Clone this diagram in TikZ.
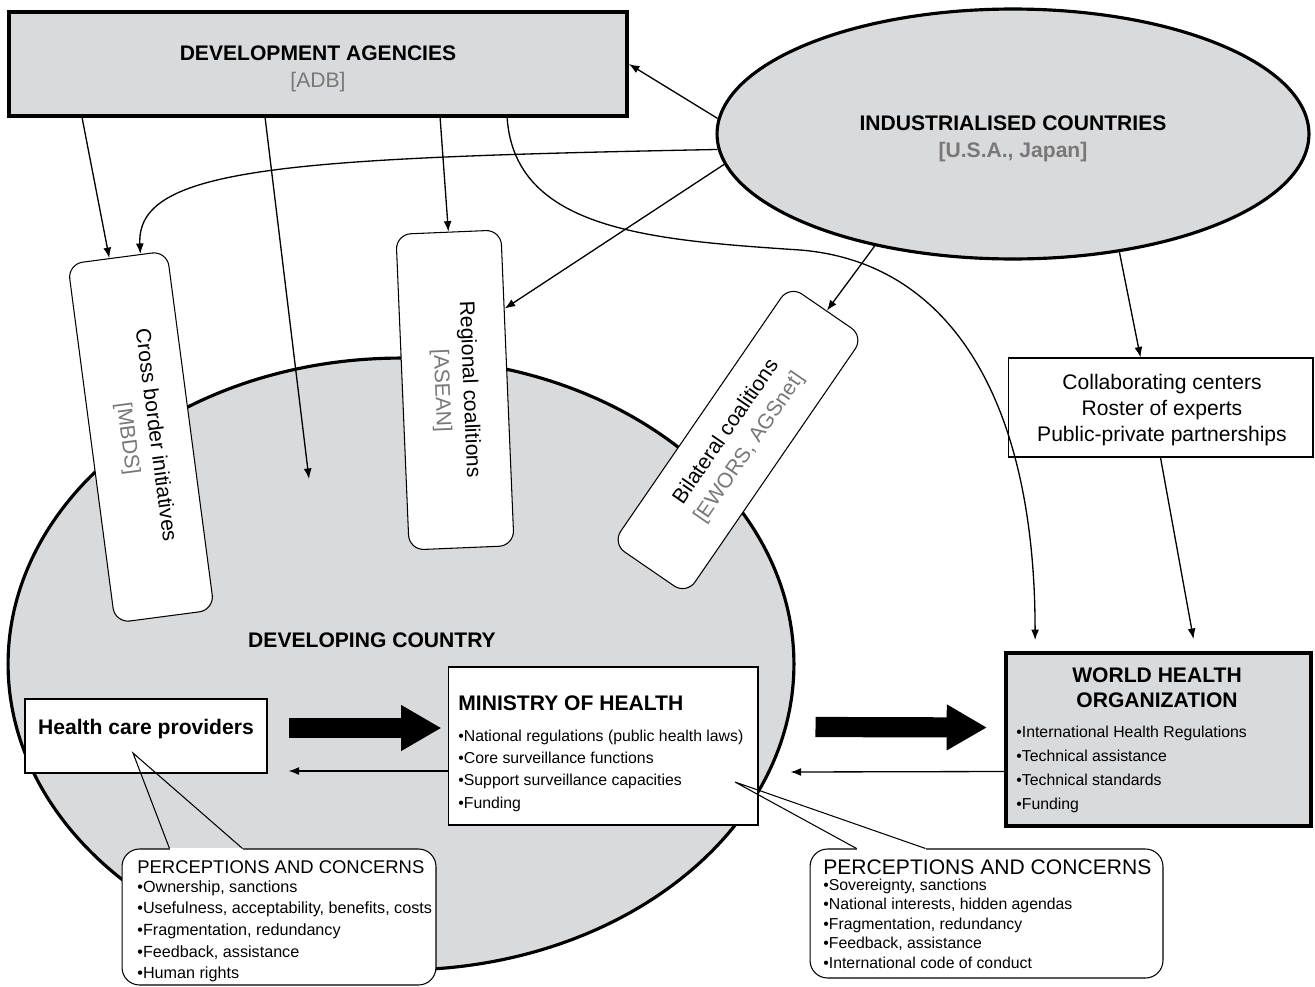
\documentclass[tikz,border=0pt]{standalone}
\usepackage{fontspec}
\setmainfont{Liberation Sans}
\usetikzlibrary{shapes.geometric, arrows.meta, calc}

\definecolor{panelgray}{RGB}{217,218,220}
\definecolor{labelgray}{RGB}{120,120,120}

\begin{document}
\begin{tikzpicture}[x=0.02cm, y=-0.02cm, >={Latex[length=6pt,width=4.5pt]},
    heavybox/.style={draw, line width=2.2pt, fill=panelgray, inner sep=0pt},
    plainbox/.style={draw, line width=0.6pt, fill=white, inner sep=0pt},
    tagbox/.style={plainbox, rounded corners=0.3cm, align=center, font=\fontsize{12}{16}\selectfont},
    callbox/.style={plainbox, rounded corners=0.35cm},
    itemlist/.style={inner sep=0pt, align=left, anchor=north west},
    link/.style={->, line width=0.75pt},
    fatarrow/.style={line width=11.5pt, -{Triangle[length=23pt,width=24.5pt]}}]

    \useasboundingbox (0,0) rectangle (1315,987);

    % === DEVELOPING COUNTRY ===
    \node[draw, ellipse, line width=1.8pt, fill=panelgray, inner sep=0pt,
          minimum width=15.72cm, minimum height=12.24cm] (devc) at (401,664) {};
    \node[font=\fontsize{12}{14}\selectfont\bfseries] (devclabel) at (372,640) {DEVELOPING COUNTRY};
    \coordinate (devcin) at ($(devc.center)+(-92,-185)$);

    % === DEVELOPMENT AGENCIES ===
    \node[heavybox, minimum width=12.36cm, minimum height=2.08cm] (devag) at (318,64) {};
    \node[align=center, font=\fontsize{12}{15.3}\selectfont] (devagtitle) at (318,69)
          {\textbf{DEVELOPMENT AGENCIES}\\\textcolor{labelgray}{[ADB]}};

    % === INDUSTRIALISED COUNTRIES ===
    \node[ellipse, draw, line width=1.8pt, fill=panelgray, inner sep=0pt,
          minimum width=11.84cm, minimum height=5cm] (ind) at (1013,134) {};
    \node[align=center, font=\fontsize{12}{15.3}\selectfont\bfseries] (indtitle) at (1013,139)
          {INDUSTRIALISED COUNTRIES\\\textcolor{labelgray}{[U.S.A., Japan]}};

    % === Coalitions / initiatives ===
    \node[tagbox, rotate=-82.5, minimum width=7.24cm, minimum height=2cm] (cbi) at (141,437)
          {Cross border initiatives\\\textcolor{labelgray}{[MBDS]}};
    \node[tagbox, rotate=-87.6, minimum width=6.32cm, minimum height=2.1cm] (reg) at (455,390)
          {Regional coalitions\\\textcolor{labelgray}{[ASEAN]}};
    \node[tagbox, rotate=55.5, minimum width=6.26cm, minimum height=1.8cm] (bil) at (738,440)
          {Bilateral coalitions\\\textcolor{labelgray}{[EWORS, AGSnet]}};

    % === WHO side ===
    \node[plainbox, minimum width=6.1cm, minimum height=1.98cm] (collab) at (1160.5,407.5) {};
    \node[align=center, font=\fontsize{12}{14.6}\selectfont] (collabtext) at (1162,410)
          {Collaborating centers\\Roster of experts\\Public-private partnerships};
    \node[heavybox, minimum width=6.1cm, minimum height=3.46cm] (who) at (1158.5,739.5) {};
    \node[align=center, font=\fontsize{12}{14.2}\selectfont\bfseries] (whotitle) at (1157,688)
          {WORLD HEALTH\\ORGANIZATION};
    \node[itemlist, font=\fontsize{9}{13.6}\selectfont] (whoitems) at (1016,726)
          {•International Health Regulations\\•Technical assistance\\•Technical standards\\•Funding};

    % === MINISTRY OF HEALTH ===
    \node[plainbox, minimum width=6.2cm, minimum height=3.16cm] (moh) at (603,746) {};
    \node[itemlist, font=\fontsize{9}{12.65}\selectfont] (mohitems) at (458,695)
          {{\fontsize{12}{14}\selectfont\bfseries MINISTRY OF HEALTH}\\[5.25pt]%
           •National regulations (public health laws)\\•Core surveillance functions\\%
           •Support surveillance capacities\\•Funding};

    % === HEALTH CARE PROVIDERS ===
    \node[plainbox, minimum width=4.84cm, minimum height=1.48cm, text depth=10.2pt,
          font=\fontsize{12}{14}\selectfont\bfseries] (hcp) at (146,736) {Health care providers};

    % Thin arrows
    \draw[link] (ind.177) -- (devag.east);
    \draw[link] ($(devag.south west)+(75,0)$) -- ($(cbi.south west)!0.42!(cbi.north west)$);
    \draw[link] ($(devag.south west)+(258,0)$) -- (devcin);
    \draw[link] ($(devag.south west)+(433,0)$) -- (reg.west);
    \draw[link] ($(devag.south west)+(500,0)$) .. controls (515,230) and (650,240) .. (800,250)
                .. controls (950,262) and (1035,400) .. ($(who.north west)+(31,-11)$);
    \draw[link] (ind.183) .. controls (280,158) and (136,168) .. ($(cbi.south west)!0.73!(cbi.north west)$);
    \draw[link] (ind.186) -- ($(reg.north west)!0.25!(reg.north east)$);
    \draw[link] (ind.219) -- (bil.east);
    \draw[link] (ind.-48) -- ($(collab.north)+(-20,0)$);
    \draw[link] (collab.south) -- ($(who.north)+(35,-12)$);

    % Big arrows
    \draw[fatarrow] ($(hcp.east)+(21,-8)$) -- ($(moh.west)+(-6,-18)$);
    \draw[fatarrow] ($(moh.east)+(57,-19)$) -- ($(who.west)+(-17,-12)$);
    \draw[link] ($(moh.west)+(0,25)$) -- ($(hcp.east)+(21,35)$);
    \draw[link] ($(who.west)+(0,32)$) -- ($(moh.east)+(32,26)$);

    % === PERCEPTIONS AND CONCERNS (left) ===
    \node[callbox, minimum width=6.28cm, minimum height=2.72cm] (callL) at (279,917) {};
    \fill[white] ($(callL.north west)+(48,-0.8)$) rectangle ($(callL.north west)+(121,1.2)$);
    \draw[line width=0.6pt] ($(callL.north west)+(48,0)$) -- ($(hcp.center)+(-13,17)$)
                            -- ($(callL.north west)+(121,0)$);
    \node[itemlist, font=\fontsize{9.2}{12.3}\selectfont] (callLitems) at (137,860)
          {{\fontsize{10.5}{12}\selectfont PERCEPTIONS AND CONCERNS}\\[-1.5pt]%
           •Ownership, sanctions\\•Usefulness, acceptability, benefits, costs\\%
           •Fragmentation, redundancy\\•Feedback, assistance\\•Human rights};

    % === PERCEPTIONS AND CONCERNS (right) ===
    \node[callbox, minimum width=7.06cm, minimum height=2.58cm] (callR) at (986.5,913.5) {};
    \fill[white] ($(callR.north west)+(47,-0.8)$) rectangle ($(callR.north west)+(116,1.2)$);
    \draw[line width=0.6pt] ($(callR.north west)+(47,0)$) -- ($(moh.center)+(132,36)$)
                            -- ($(callR.north west)+(116,0)$);
    \node[itemlist, font=\fontsize{9}{11.05}\selectfont] (callRitems) at (823,859.5)
          {{\fontsize{12}{14}\selectfont PERCEPTIONS AND CONCERNS}\\[-1.95pt]%
           •Sovereignty, sanctions\\•National interests, hidden agendas\\%
           •Fragmentation, redundancy\\•Feedback, assistance\\•International code of conduct};
\end{tikzpicture}
\end{document}
